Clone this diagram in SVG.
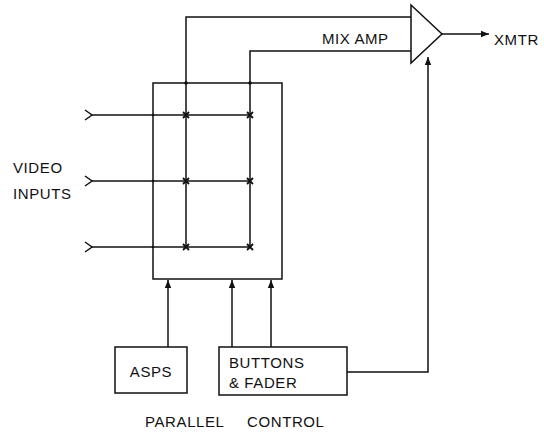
<svg xmlns="http://www.w3.org/2000/svg" width="544" height="432" viewBox="0 0 544 432">
<defs>
<marker id="arr" viewBox="0 0 10 10" refX="10" refY="5" markerWidth="8" markerHeight="8" markerUnits="userSpaceOnUse" orient="auto"><path d="M0,1 L10,5 L0,9 z" fill="#111"/></marker>
</defs>
<style>
.ln{stroke:#111;stroke-width:1.5;fill:none}
.bx{stroke:#111;stroke-width:1.5;fill:#fff}
text{font-family:"Liberation Sans",Arial,sans-serif;font-size:15px;letter-spacing:0.6px;fill:#111}
.x{stroke:#111;stroke-width:1.8}
</style>
<rect width="544" height="432" fill="#fff"/>
<g id="connectors">
<path class="ln" d="M186,247 V17 H411"/>
<path class="ln" d="M250,247 V51 H411"/>
<path class="ln" d="M92,115 H250"/>
<path class="ln" d="M92,181 H250"/>
<path class="ln" d="M92,247 H250"/>
<path class="ln" d="M85,110 L92,115 L85,120"/>
<path class="ln" d="M85,176 L92,181 L85,186"/>
<path class="ln" d="M85,242 L92,247 L85,252"/>
<path class="ln" d="M442,34 H489" marker-end="url(#arr)"/>
<path class="ln" d="M347,372 H428 V57" marker-end="url(#arr)"/>
<path class="ln" d="M168,347 V280" marker-end="url(#arr)"/>
<path class="ln" d="M232,347 V280" marker-end="url(#arr)"/>
<path class="ln" d="M271,347 V280" marker-end="url(#arr)"/>
</g>
<g id="matrix">
<rect x="153" y="83" width="129" height="196" fill="none" stroke="#111" stroke-width="1.5"/>
<circle cx="186" cy="83" r="1.8" fill="#111"/>
<circle cx="250" cy="83" r="1.8" fill="#111"/>
<circle cx="153" cy="115" r="1.3" fill="#111"/>
<circle cx="153" cy="181" r="1.3" fill="#111"/>
<circle cx="153" cy="247" r="1.3" fill="#111"/>
<g class="x">
<path d="M183,112 l6,6 M189,112 l-6,6"/>
<path d="M247,112 l6,6 M253,112 l-6,6"/>
<path d="M183,178 l6,6 M189,178 l-6,6"/>
<path d="M247,178 l6,6 M253,178 l-6,6"/>
<path d="M183,244 l6,6 M189,244 l-6,6"/>
<path d="M247,244 l6,6 M253,244 l-6,6"/>
</g>
</g>
<g id="mixamp">
<path class="bx" d="M411,5 L442,34 L411,63 Z"/>
<text x="322" y="44">MIX AMP</text>
</g>
<g id="xmtr"><text x="494" y="45">XMTR</text></g>
<g id="video"><text x="13" y="173">VIDEO</text><text x="13" y="199">INPUTS</text></g>
<g id="asps">
<rect class="bx" x="115" y="347" width="72" height="46"/>
<text x="151" y="377" text-anchor="middle">ASPS</text>
</g>
<g id="buttons">
<rect class="bx" x="219" y="347" width="128" height="48"/>
<text x="229" y="368">BUTTONS</text>
<text x="229" y="388">&amp; FADER</text>
</g>
<g id="label"><text x="145" y="427">PARALLEL</text><text x="247" y="427">CONTROL</text></g>
</svg>
